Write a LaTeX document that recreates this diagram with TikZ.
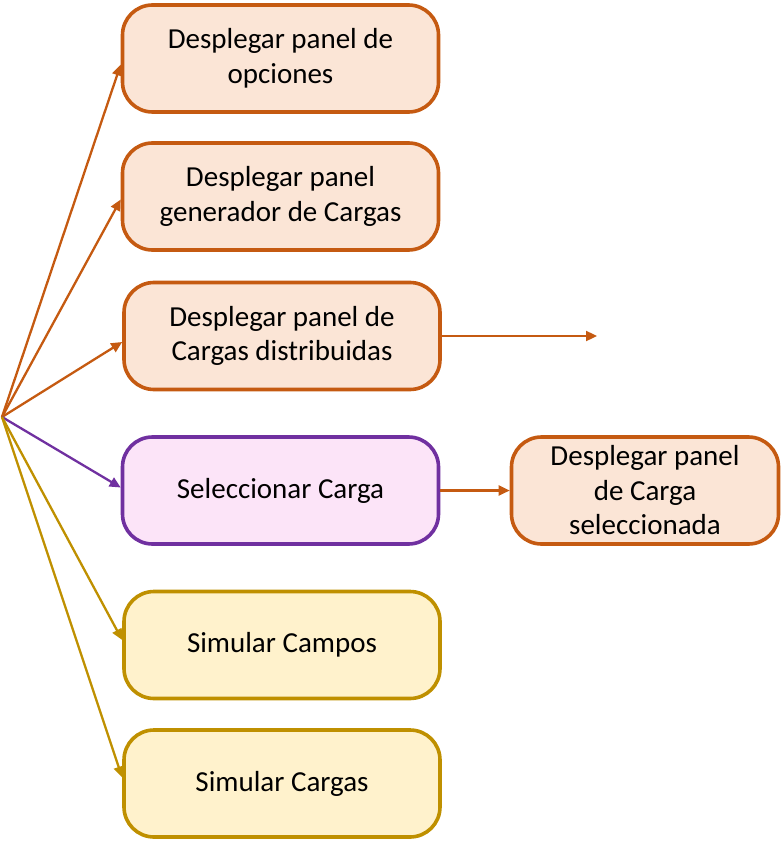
\documentclass[tikz,border=0pt]{standalone}
\usepackage{fontspec}
\setmainfont{Carlito}
\usetikzlibrary{arrows.meta,calc}
\definecolor{naranja}{HTML}{C55A11}
\definecolor{naranjaclaro}{HTML}{FBE5D6}
\definecolor{morado}{HTML}{7030A0}
\definecolor{moradoclaro}{HTML}{FCE4F8}
\definecolor{dorado}{HTML}{BF9000}
\definecolor{doradoclaro}{HTML}{FFF2CC}

\begin{document}
\begin{tikzpicture}[x=1pt,y=-1pt,->,>={Triangle[length=11pt,width=10pt]},line width=2.3pt,
  caja/.style={draw,rounded corners=30pt,line width=3.6pt,align=center,inner sep=0pt,
    minimum width=316pt,minimum height=107pt,font=\fontsize{29}{34.5}\selectfont},
  caja naranja/.style={caja,draw=naranja,fill=naranjaclaro},
  caja morada/.style={caja,draw=morado,fill=moradoclaro},
  caja dorada/.style={caja,draw=dorado,fill=doradoclaro}]

\useasboundingbox (0,0) rectangle (783,842);

\node[caja naranja](D1) at (280.5,58.5) {Desplegar panel de\\opciones};
\node[caja naranja](D2) at (280.5,196.5) {Desplegar panel\\generador de Cargas};
\node[caja naranja](D3) at (282,336) {Desplegar panel de\\Cargas distribuidas};
\node[caja morada](S1) at (280.5,490.5) {Seleccionar Carga};
\node[caja dorada](C1) at (282,645) {Simular Campos};
\node[caja dorada](C2) at (282,783.5) {Simular Cargas};
\node[caja naranja,minimum width=267pt](D4) at (645,490.5) {Desplegar panel\\de Carga\\seleccionada};
\coordinate (O) at (2,417);
\coordinate (F) at (597,336);

\path
(O) edge[naranja] ($(D1.west)+(0,6)$)
(O) edge[naranja] ($(D2.west)+(0,3)$)
(O) edge[naranja] ($(D3.west)+(0,6)$)
(O) edge[morado] ($(S1.west)+(0,-3)$)
(O) edge[dorado] ($(C1.west)+(0,-5)$)
(O) edge[dorado] ($(C2.west)+(0,-6)$)
(D3) edge[naranja] (F)
(S1) edge[naranja] (D4);

\end{tikzpicture}
\end{document}
